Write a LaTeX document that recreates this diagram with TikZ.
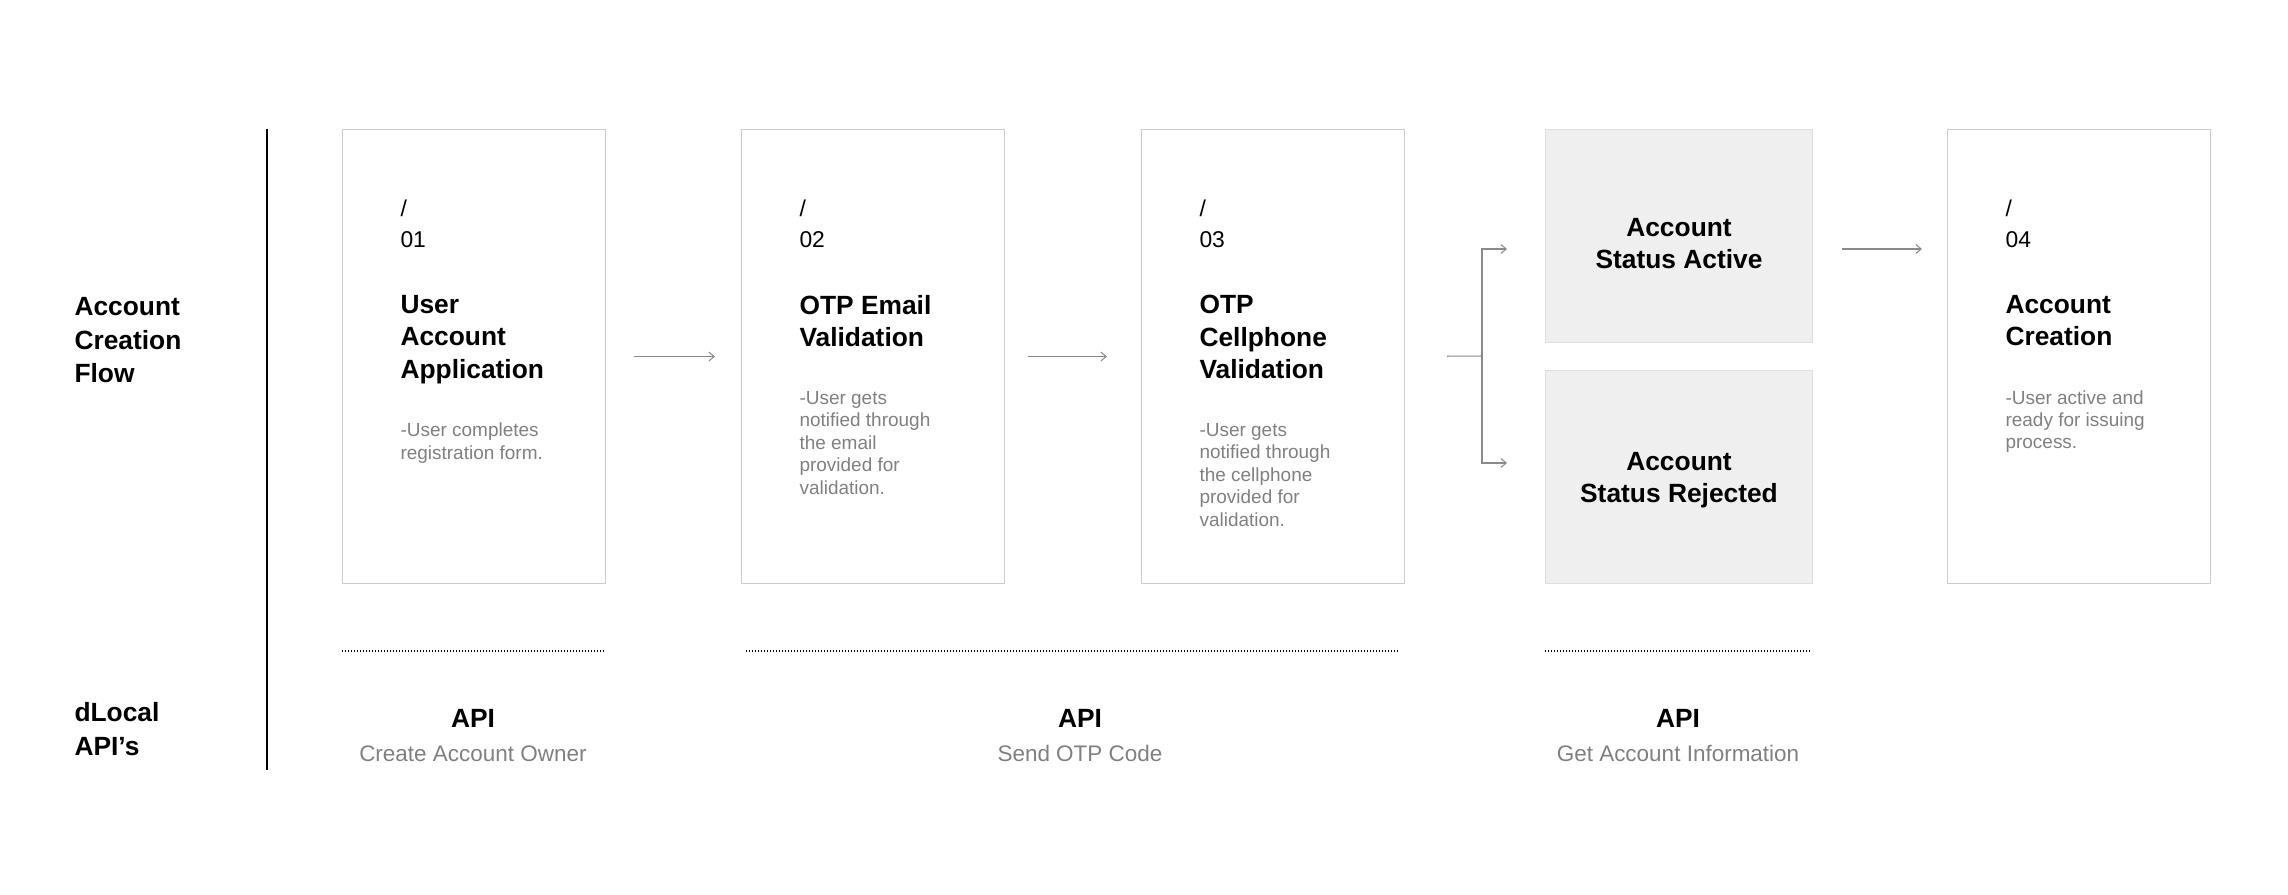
\documentclass[tikz,border=0pt]{standalone}
\usepackage{fontspec}
\setmainfont{Liberation Sans}
\usetikzlibrary{arrows.meta,positioning}
\definecolor{cardline}{HTML}{CCCCCC}
\definecolor{statefill}{HTML}{EFEFEF}
\definecolor{stateline}{HTML}{DEDEDE}
\definecolor{arrowgrey}{HTML}{8A8A8A}
\definecolor{notegrey}{HTML}{808080}

\begin{document}
\begin{tikzpicture}[x=0.02cm, y=-0.02cm, line width=.6pt,
    >={Straight Barb[length=3pt,width=5pt]},
    card/.style={draw=cardline, minimum width=5.26cm, minimum height=9.08cm, anchor=north west, inner sep=0},
    state/.style={draw=stateline, fill=statefill, minimum width=5.34cm, minimum height=4.26cm, anchor=north west, inner sep=0},
    statetext/.style={inner sep=0, align=center, font=\fontsize{15pt}{18.5pt}\selectfont\bfseries},
    txt/.style={anchor=north west, inner sep=0, align=left, execute at begin node=\strut, execute at end node=\strut},
    stepno/.style={txt, font=\fontsize{13pt}{17.6pt}\selectfont},
    heading/.style={txt, font=\fontsize{15pt}{18.5pt}\selectfont\bfseries},
    rowlabel/.style={txt, font=\fontsize{15pt}{19pt}\selectfont\bfseries},
    note/.style={txt, text=notegrey, font=\fontsize{10.8pt}{12.8pt}\selectfont},
    apititle/.style={anchor=base, inner sep=0, font=\fontsize{15pt}{18pt}\selectfont\bfseries},
    apisub/.style={anchor=base, inner sep=0, text=notegrey, font=\fontsize{12.8pt}{15pt}\selectfont},
    flow/.style={->, draw=arrowgrey},
    apiline/.style={line width=.7pt, dash pattern=on .569pt off 1.138pt}]
    \useasboundingbox (0,0) rectangle (2288,894);

    \draw[line width=.9pt] (267,129) -- (267,770);
    \node[rowlabel] (flowlbl) at (74,297) {Account\\Creation\\Flow};
    \node[rowlabel] (apilbl) at (74,702) {dLocal\\API’s};

    \foreach \n/\x/\num/\head/\lines in {
        1/342/01/{User\\Account\\Application}/{-User completes\\registration form.},
        2/741/02/{OTP Email\\Validation}/{-User gets\\notified through\\the email\\provided for\\validation.},
        3/1141/03/{OTP\\Cellphone\\Validation}/{-User gets\\notified through\\the cellphone\\provided for\\validation.},
        4/1947/04/{Account\\Creation}/{-User active and\\ready for issuing\\process.}} {
      \node[card] (c\n) at (\x,129) {};
      \node[stepno] (no\n) at (\x+58,199) {/\\\num};
      \node[heading, below right=.76cm and 0cm of no\n.south west] (hd\n) {\head};
      \node[note, below right=.67cm and 0cm of hd\n.south west] (nt\n) {\lines};
    }

    \node[state] (act) at (1545,129) {};
    \node[state] (rej) at (1545,370) {};
    \node[statetext] (actlbl) at ([yshift=-.15cm]act.center) {Account\\Status Active};
    \node[statetext] (rejlbl) at ([yshift=-.06cm]rej.center) {Account\\Status Rejected};

    \coordinate (split) at (1482,356);
    \coordinate (toact) at (1507,249);
    \coordinate (torej) at (1507,463);
    \draw[flow, shorten <=.56cm, shorten >=.52cm] (c1) -- (c2);
    \draw[flow, shorten <=.46cm, shorten >=.68cm] (c2) -- (c3);
    \draw[draw=arrowgrey, shorten <=.84cm] (c3.east) -- (split);
    \draw[flow] (split) |- (toact);
    \draw[flow] (split) |- (torej);
    \draw[flow, shorten <=.58cm, shorten >=.5cm] (act.east |- toact) -- (c4.west |- toact);

    \draw[apiline] (342,651) -- (605,651);
    \draw[apiline] (746,651) -- (1398,651);
    \draw[apiline] (1545,651) -- (1811,651);

    \node[apititle] (api1) at (473,727) {API};
    \node[apisub] (sub1) at (473,761) {Create Account Owner};
    \node[apititle] (api2) at (1080,727) {API};
    \node[apisub] (sub2) at (1080,761) {Send OTP Code};
    \node[apititle] (api3) at (1678,727) {API};
    \node[apisub] (sub3) at (1678,761) {Get Account Information};
\end{tikzpicture}
\end{document}
